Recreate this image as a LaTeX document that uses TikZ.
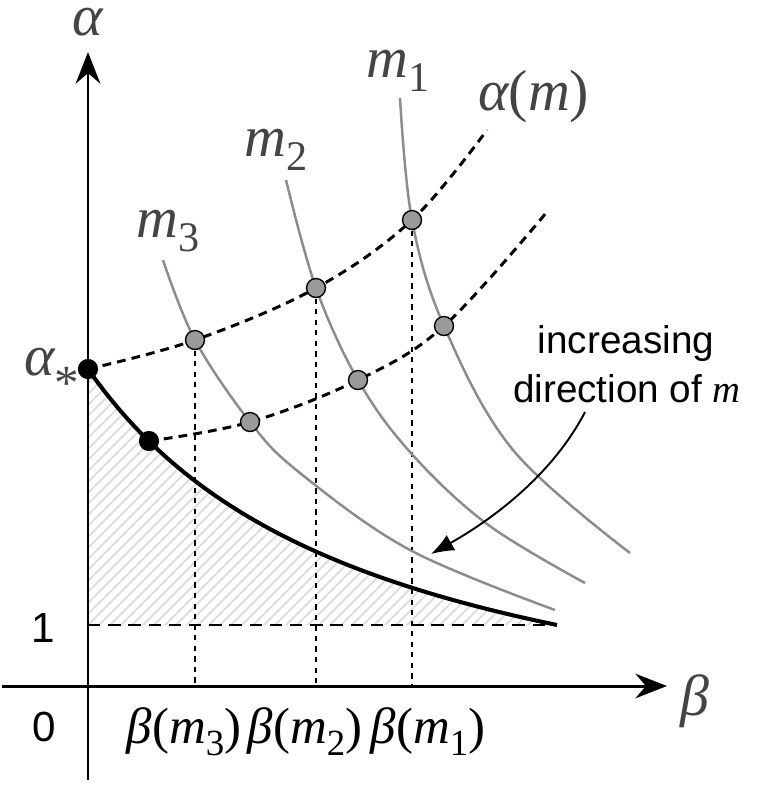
\documentclass[tikz,border=0pt]{standalone}
\usepackage{fontspec}
\setmainfont{Liberation Serif}
\newfontfamily\sansf{Liberation Sans}
\usetikzlibrary{arrows.meta}
\definecolor{curvegray}{HTML}{8C8C8C}
\definecolor{labgray}{HTML}{444444}
\definecolor{dotgray}{HTML}{9A9A9A}
\definecolor{hatchgray}{HTML}{DADADA}
\newcommand\mysub[1]{\raisebox{-0.25em}{\fontsize{24}{26}\selectfont\upshape #1}}
\newcommand\botsub[1]{\raisebox{-0.25em}{\fontsize{21}{23}\selectfont\upshape #1}}
\newcommand\up[1]{{\upshape #1}}
\begin{document}
\begin{tikzpicture}[x=0.02cm,y=-0.02cm,
  axisline/.style={line width=1.7pt,-{Stealth[length=18pt,width=14pt,inset=6pt]}},
  mcurve/.style={curvegray,line width=1.4pt},
  mainc/.style={black,line width=2.3pt},
  alphac/.style={black,line width=1.7pt,dash pattern=on 5pt off 3.5pt},
  oneline/.style={black,line width=1.4pt,dash pattern=on 7pt off 4.5pt},
  vdot/.style={black,line width=0.8pt,dash pattern=on 3pt off 3pt},
  gdot/.style={circle,draw=black,line width=0.8pt,fill=dotgray,minimum size=10.8pt,inner sep=0pt},
  bdot/.style={circle,fill=black,minimum size=11.5pt,inner sep=0pt},
  lab/.style={text=labgray,font=\fontsize{33}{38}\selectfont\itshape,inner sep=0pt},
  blab/.style={text=black,font=\fontsize{29}{34}\selectfont\itshape,inner sep=0pt},
  slab/.style={text=black,font=\sansf\fontsize{22}{26}\selectfont,inner sep=0pt},
  nlab/.style={text=black,font=\sansf\fontsize{24}{28}\selectfont,inner sep=0pt},
  hatch/.style={hatchgray,line width=0.9pt}
]
\useasboundingbox (0,0) rectangle (767,785);

% key coordinates
\coordinate (astar) at (88,369);
\coordinate (b0) at (149,441);
\coordinate (endc) at (557,625);
\coordinate (p31) at (195,340);
\coordinate (p21) at (316,288);
\coordinate (p11) at (412,220);
\coordinate (p32) at (250,422);
\coordinate (p22) at (358,380);
\coordinate (p12) at (444,326);
\coordinate (one0) at (88,625);
\coordinate (x3) at (195,686);
\coordinate (x2) at (316,686);
\coordinate (x1) at (412,686);

% hatched region
\begin{scope}
  \clip (one0) -- (astar) -- plot[domain=88:557,samples=60] (\x,{782.2-1190/((\x+200)/100)}) -- cycle;
  \foreach \i in {-700,-689,...,600} \draw[hatch] (\i,720) -- ++(720,-720);
\end{scope}

% level line alpha = 1
\draw[oneline] (one0) -- (endc);

% dotted verticals
\draw[vdot] (p31) -- (x3);
\draw[vdot] (p21) -- (x2);
\draw[vdot] (p11) -- (x1);

% m curves
\draw[mcurve] plot[smooth,tension=0.6] coordinates {(163,260) (195,340) (250,422) (300,473) (410,550) (555,610)};
\draw[mcurve] plot[smooth,tension=0.6] coordinates {(286,180) (316,288) (358,380) (410,452) (487,524) (585,583)};
\draw[mcurve] plot[smooth,tension=0.6] coordinates {(400,98) (412,220) (444,326) (513,450) (630,553)};

% main boundary curve
\draw[mainc] plot[domain=88:557,samples=60] (\x,{782.2-1190/((\x+200)/100)});

% alpha(m) curves
\draw[alphac] plot[smooth,tension=0.6] coordinates {(88,369) (195,340) (316,288) (412,220) (487,130)};
\draw[alphac] plot[smooth,tension=0.6] coordinates {(149,441) (250,422) (358,380) (444,326) (546,213)};

% axes
\coordinate (vbot) at (88,780);
\coordinate (vtop) at (88,52);
\coordinate (hleft) at (2,686);
\coordinate (hright) at (667,686);
\draw[axisline] (vbot) -- (vtop);
\draw[axisline] (hleft) -- (hright);

% dots
\node[bdot] (da) at (astar) {};
\node[bdot] (db) at (b0) {};
\foreach \p in {p31,p21,p11,p32,p22,p12} \node[gdot] (d\p) at (\p) {};

% labels
\node[lab,anchor=base] (lalpha) at (88,35) {α};
\node[lab,anchor=base west] (lbeta) at (680,715) {β};
\node[lab,anchor=base west] (lm1) at (366,77) {m\mysub{1}};
\node[lab,anchor=base west] (lm2) at (244,156) {m\mysub{2}};
\node[lab,anchor=base west] (lm3) at (136,237) {m\mysub{3}};
\node[lab,anchor=base west] (lam) at (478,110) {α\up{(}m\up{)}};
\node[lab,anchor=base west] (las) at (24,375) {α\raisebox{-0.42em}{\fontsize{28}{30}\selectfont\upshape *}};
\node[blab,anchor=base] (lb3) at (184,743) {β\up{(}m\botsub{3}\up{)}};
\node[blab,anchor=base] (lb2) at (305,743) {β\up{(}m\botsub{2}\up{)}};
\node[blab,anchor=base] (lb1) at (428,743) {β\up{(}m\botsub{1}\up{)}};
\node[nlab] (lone) at (43,628) {1};
\node[nlab] (lzero) at (44,727) {0};
\node[slab,anchor=base] (linc) at (626,353) {increasing};
\node[slab,anchor=base] (ldir) at (627,402) {direction of {\rmfamily\itshape m}};

% arrow
\coordinate (arrend) at (431,554);
\draw[black,line width=1.1pt,-{Latex[length=13pt,width=10pt]}] (585,412) .. controls (555,470) and (500,515) .. (arrend);
\end{tikzpicture}
\end{document}
